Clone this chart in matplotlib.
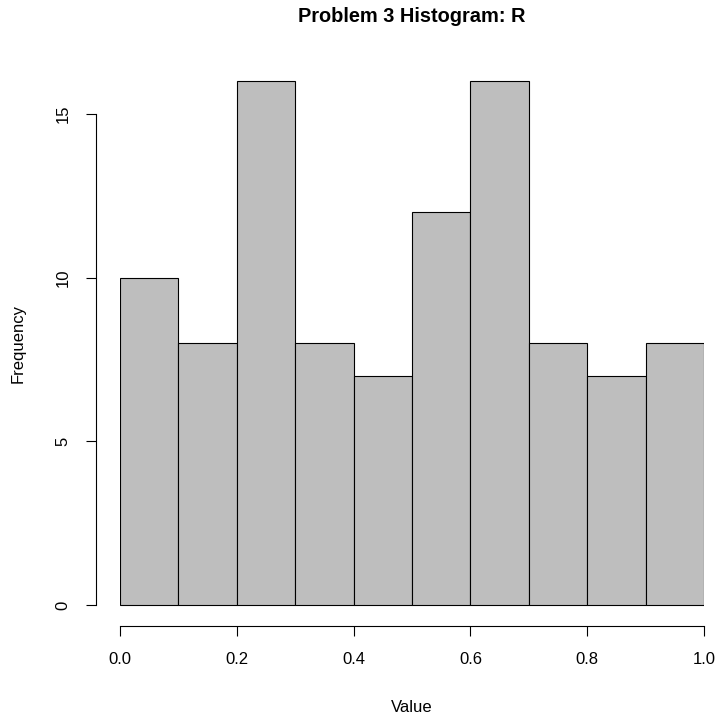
import matplotlib.pyplot as plt
import numpy as np

# histogram bins and counts
bin_edges = [0.0, 0.1, 0.2, 0.3, 0.4, 0.5, 0.6, 0.7, 0.8, 0.9, 1.0]
counts = [10, 8, 16, 8, 7, 12, 16, 8, 7, 8]
x_ticks = [0.0, 0.2, 0.4, 0.6, 0.8, 1.0]
x_tick_labels = ['0.0', '0.2', '0.4', '0.6', '0.8', '1.0']
y_ticks = [0, 5, 10, 15]

plt.rcParams['font.family'] = ['Liberation Sans', 'DejaVu Sans']

W, H = 718, 715
fig = plt.figure(figsize=(W / 100, H / 100), dpi=100)

# plot region in pixels (R style)
left, right = 120, 704
top, bottom = 60.4, 626
ax = fig.add_axes([left / W, 1 - bottom / H, (right - left) / W, (bottom - top) / H])

edges = np.array(bin_edges)
ax.bar(edges[:-1], counts, width=np.diff(edges), align='edge',
       color='#bebebe', edgecolor='black', linewidth=0.8)

ax.set_xlim(0, 1)
ax.set_ylim(-0.64, 16.64)

for s in ['top', 'right']:
    ax.spines[s].set_visible(False)
ax.spines['bottom'].set_bounds(0, 1)
ax.spines['left'].set_bounds(0, 15)
ax.spines['left'].set_position(('outward', 24 * 72 / 100))
for s in ['bottom', 'left']:
    ax.spines[s].set_linewidth(0.8)

ax.set_xticks(x_ticks)
ax.set_xticklabels(x_tick_labels)
ax.set_yticks(y_ticks)
ax.set_yticklabels([str(v) for v in y_ticks], rotation=90, va='center')
ax.tick_params(axis='both', length=7.5, width=0.8, labelsize=12, pad=11)

fig.text((left + right) / 2 / W, 1 - 17 / H, 'Problem 3 Histogram: R',
         ha='center', va='center', fontsize=14.4, fontweight='bold')
fig.text((left + right) / 2 / W, 1 - 708 / H, 'Value',
         ha='center', va='center', fontsize=12)
fig.text(18 / W, 1 - (top + bottom) / 2 / H, 'Frequency',
         ha='center', va='center', rotation=90, fontsize=12)

fig.savefig('out.png', dpi=100)
